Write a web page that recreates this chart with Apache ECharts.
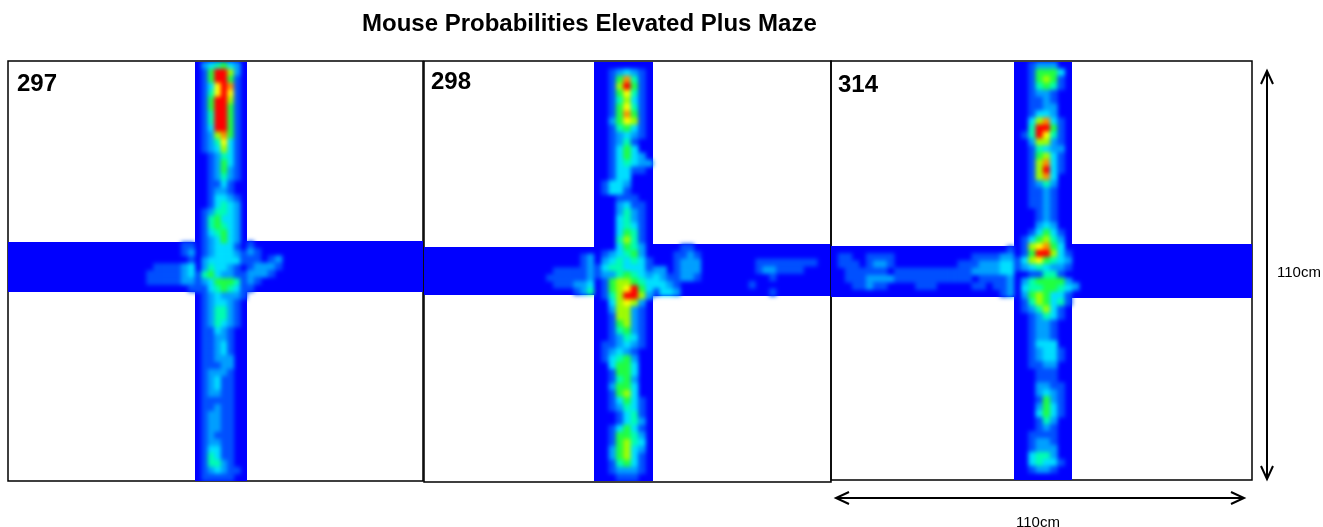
<!DOCTYPE html>
<html><head><meta charset="utf-8">
<style>
html,body{margin:0;padding:0;background:#fff}
#c,#clip,#heat{position:absolute;left:0;top:0;width:1323px;height:527px}
#clip{clip-path:inset(62px 0 46px 0)}
#heat{filter:blur(2px)}
</style>
<script src="https://cdn.jsdelivr.net/npm/echarts@6/dist/echarts.min.js"></script>
</head><body><div id="c"></div><div id="clip"><div id="heat"></div></div>
<script>
// Occupancy level per cell, 0 (never) .. 9 (most). Rows run top to bottom.
const vertical297 = [
"02345320","01599620","01599510","01379810","01479710","01599610","01599510","01499510","01499510","01399510",
"01268510","01247310","01236310","00124310","00125310","00125210","00124210","00113100","00122100","00133210",
"00134320","01244320","01453320","01454320","01345320","01235320","01233310","01233321","02333331","02433210",
"14532211","12355541","11345431","01232221","01233210","01244210","01244210","01243210","01132100","01122100",
"01123100","01123100","01122200","01112200","01222100","01231100","01231100","01221100","01111100","01121100",
"01221100","01221100","01221100","01211100","01221100","01331100","01431100","01442100","01232110","01111100"];
const left297 = [
"000000000000000000000000011","000000000000000000000000012","000000000000000000000000001",
"000000000000000000000111123","000000000000000000001111123","000000000000000000001111122","000000000000000000000000001"];
const right297 = [
"1000000000000000000000000","2100000000000000000000000","1101200000000000000000000",
"1222100000000000000000000","2221000000000000000000000","2100000000000000000000000","1000000000000000000000000"];

const vertical298 = [
"00000000","00123210","00158410","00169510","00157410","00146310","00157410","00158510","00257610","00145310",
"00123210","00124100","00135300","00135320","00134322","00133110","00133000","01332000","01331000","00011100",
"00023110","00024210","00034210","00034310","00035410","00046410","00035420","01234520","02343431","13443331",
"12245432","01566543","01567953","01469962","00367620","00266210","00166210","00156210","00145210","00124310",
"01123210","01232100","01345200","00355300","00155300","00145200","00255300","00156300","00135310","00124310",
"00013410","00013420","00135310","00155420","00156430","00256320","00256310","00145310","00122210","00011100"];
const left298 = [
"0000000000000000000000000","0000000000000000000000012","0000000000000000000000012",
"0000000000000000000111112","0000000000000000001111112","0000000000000000000111223","0000000000000000000000124"];
const right298 = [
"00001100000000000000000000","00011210000000000000000000","00012220000000011111111100",
"22012220000000012211110000","32112210000000000100000000","33210000000000100000000000","13320000000000000100000000"];

const vertical314 = [
"00122200","00155530","00156510","00145410","00122100","00112100","00112200","00133200","00368310","00499510",
"01497410","00266210","00143220","00156310","00168310","00169310","00168300","00124200","00112100","00112100",
"00112100","00012100","00012100","00023200","00135310","01356420","01678530","01599631","13675432","12343221",
"00114410","02455552","03445543","02565331","01465341","01246310","00124310","00122100","00122100","00122100",
"00133300","00123310","00123310","00112200","00011100","00011100","00022110","00023210","00015210","00025310",
"00035310","00014200","00012100","00111100","00122100","00122200","00344200","00343310","00122100","00000000"];
const left314 = [
"00000000000000000000000001","01100111100000000000111122","01110122100000000011122233",
"00111111011111111111222233","00111222211111111111011112","00011211000011100000110112","00000000000000000000000012"];
const right314 = [
"0000000000000000000000000","0000000000000000000000000","0000000000000000000000000",
"0000000000000000000000000","0000000000000000000000000","2000000000000000000000000","0000000000000000000000000"];

const mainTitle = "Mouse Probabilities Elevated Plus Maze";
const mouseIds = ["297","298","314"];
const lengthLabel = "110cm";
const jet = ['#0000ff','#0050ff','#00a0ff','#00e0ff','#00ffb0','#20ff40','#a0ff00','#ffff00','#ff9000','#ff0000'];

const panels = [
  {rows:[vertical297,left297,right297], frame:[8,61,415,420], v:[195,62,52,419], l:[8,242,187,50], r:[247,241,176,51], label:[17,72]},
  {rows:[vertical298,left298,right298], frame:[424,61,407,421], v:[594,62,59,419], l:[424,247,170,48], r:[653,244,178,52], label:[431,70]},
  {rows:[vertical314,left314,right314], frame:[831,61,421,419], v:[1014,62,58,418], l:[831,246,183,51], r:[1072,244,180,54], label:[838,73]}
];

// Back layer: frames, text and the blue maze floor. Front layer: the occupied cells.
const grid=[], xAxis=[], yAxis=[];
const gridH=[], xH=[], yH=[], series=[];
const base={show:false,type:'category',axisTick:{show:false}};
function addFloor(rect){
  const i=grid.length;
  grid.push({left:rect[0],top:rect[1],width:rect[2],height:rect[3],show:true,borderWidth:0,backgroundColor:'#0000ff'});
  xAxis.push({...base,gridIndex:i,data:['']}); yAxis.push({...base,gridIndex:i,data:['']});
}
function addHeat(rows,rect){
  const i=gridH.length;
  gridH.push({left:rect[0],top:rect[1],width:rect[2],height:rect[3]});
  xH.push({...base,gridIndex:i,data:[...Array(rows[0].length).keys()]});
  yH.push({...base,gridIndex:i,inverse:true,data:[...Array(rows.length).keys()]});
  const data=[];
  rows.forEach((r,y)=>[...r].forEach((d,x)=>{ if(+d>0) data.push([x,y,+d]); }));
  series.push({type:'heatmap',xAxisIndex:i,yAxisIndex:i,data,silent:true,progressive:0,animation:false,
    emphasis:{disabled:true},label:{show:false}});
}
panels.forEach(p=>{
  const i=grid.length;
  grid.push({left:p.frame[0],top:p.frame[1],width:p.frame[2],height:p.frame[3],show:true,borderColor:'#000',borderWidth:1.5,backgroundColor:'transparent'});
  xAxis.push({...base,gridIndex:i,data:['']}); yAxis.push({...base,gridIndex:i,data:['']});
  addFloor(p.l); addFloor(p.r); addFloor(p.v);
  addHeat(p.rows[1],p.l); addHeat(p.rows[2],p.r); addHeat(p.rows[0],p.v);
});

const black={stroke:'#000',lineWidth:2,fill:'none'};
const line=(pts)=>({type:'polyline',shape:{points:pts},style:black,silent:true});
echarts.init(document.getElementById('c')).setOption({
  animation:false,
  backgroundColor:'#fff',
  title:[{text:mainTitle,left:362,top:12,textStyle:{fontFamily:'Liberation Sans',fontWeight:'bold',fontSize:24,color:'#000'},padding:0}]
    .concat(panels.map((p,k)=>({text:mouseIds[k],left:p.label[0],top:p.label[1],padding:0,
      textStyle:{fontFamily:'Liberation Sans',fontWeight:'bold',fontSize:24,color:'#000'}}))),
  grid,xAxis,yAxis,
  graphic:[
    line([[836,498],[1244,498]]),line([[849,492],[836,498],[849,504]]),line([[1231,492],[1244,498],[1231,504]]),
    line([[1267,71],[1267,479]]),line([[1261,84],[1267,71],[1273,84]]),line([[1261,466],[1267,479],[1273,466]]),
    {type:'text',left:1016,top:515,silent:true,style:{text:lengthLabel,fontFamily:'Liberation Sans',fontSize:15,fill:'#000'}},
    {type:'text',left:1277,top:265,silent:true,style:{text:lengthLabel,fontFamily:'Liberation Sans',fontSize:15,fill:'#000'}}
  ]
});
echarts.init(document.getElementById('heat')).setOption({
  animation:false,
  grid:gridH,xAxis:xH,yAxis:yH,series,
  visualMap:{show:false,min:0,max:9,inRange:{color:jet}}
});
</script></body></html>
